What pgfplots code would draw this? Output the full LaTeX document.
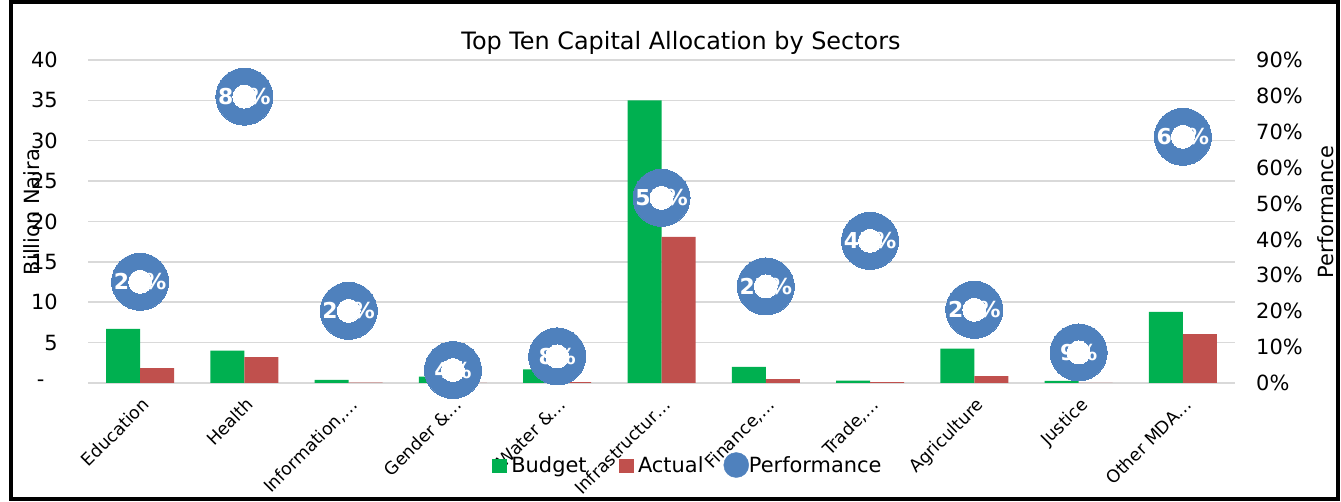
\documentclass[border=0pt]{standalone}
\usepackage{pgfplots}
\usepackage{pgfplotstable}
\pgfplotsset{compat=1.18}
\usepackage{fontspec}
\setmainfont{DejaVu Sans}
\definecolor{cgreen}{HTML}{00B050}
\definecolor{cred}{HTML}{C0504D}
\definecolor{cblue}{HTML}{4F81BD}
\definecolor{cgrid}{HTML}{D9D9D9}

\pgfplotstableread{
x budget actual
0 6.7  1.85
1 4.0  3.2
2 0.4  0.06
3 0.8  0.03
4 1.7  0.12
5 35.0 18.1
6 2.0  0.48
7 0.3  0.12
8 4.25 0.85
9 0.25 0.02
10 8.8 6.05
}\bars

\pgfplotstableread{
x perf lab
0 28.2 28
1 79.8 80
2 20.1 20
3 3.6  4
4 7.4  8
5 51.6 52
6 26.9 27
7 39.6 40
8 20.4 21
9 8.5  9
10 68.6 69
}\perf

\begin{document}
\begin{tikzpicture}[x=1bp,y=1bp]
\useasboundingbox (0,0) rectangle (1341,502);
\draw[line width=4bp] (10.5,3) rectangle (1337.5,499.5);

\begin{axis}[
  at={(88bp,119bp)}, anchor=south west,
  scale only axis, width=1147bp, height=323bp,
  xmin=-0.5, xmax=10.5, ymin=0, ymax=40,
  ybar, bar width=34bp,
  axis x line*=bottom, axis y line*=left,
  x axis line style={cgrid, line width=1.5bp, -},
  y axis line style={draw=none},
  major tick length=0pt,
  ymajorgrids, grid style={cgrid, line width=1.5bp},
  ytick={0,5,...,40},
  yticklabels={{\makebox[21bp][l]{-}},5,10,15,20,25,30,35,40},
  yticklabel style={font=\fontsize{21}{21}\selectfont, anchor=east, inner sep=0pt, xshift=-30bp},
  xtick={0,...,10},
  xticklabels={Education,Health,{Information,\ldots},{Gender \&\ldots},{Water \&\ldots},{Infrastructur\ldots},{Finance,\ldots},{Trade,\ldots},Agriculture,Justice,{Other MDA\ldots}},
  xticklabel style={font=\fontsize{17.5}{17.5}\selectfont, rotate=45, anchor=north east, inner sep=0pt, xshift=-9bp, yshift=-10bp},
  legend style={at={(0.522,-0.254)}, anchor=center, draw=none, fill=none, inner sep=0pt,
    legend columns=-1, font=\fontsize{21}{21}\selectfont,
    nodes={inner sep=0pt},
    /tikz/every odd column/.append style={column sep=5bp},
    /tikz/every even column/.append style={column sep=32bp}},
]
\addplot[fill=cgreen, draw=none, bar shift=-17bp, forget plot] table[x=x, y=budget] {\bars};
\addplot[fill=cred, draw=none, bar shift=17bp, forget plot] table[x=x, y=actual] {\bars};
\addlegendimage{legend image code/.code={\fill[cgreen] (0bp,-7bp) rectangle (14bp,6bp);}}
\addlegendentry{Budget}
\addlegendimage{legend image code/.code={\fill[cred] (0bp,-7bp) rectangle (14bp,6bp);}}
\addlegendentry{Actual\hspace*{-12bp}}
\addlegendimage{legend image code/.code={\fill[cblue] (12.5bp,0bp) circle (12.5bp);}}
\addlegendentry{\hspace*{-5bp}Performance}
\end{axis}

\begin{axis}[
  at={(88bp,119bp)}, anchor=south west,
  scale only axis, width=1147bp, height=323bp,
  xmin=-0.5, xmax=10.5, ymin=0, ymax=90,
  axis x line=none, axis y line*=right,
  y axis line style={draw=none},
  major tick length=0pt,
  ytick={0,10,...,90},
  yticklabels={0\%,10\%,20\%,30\%,40\%,50\%,60\%,70\%,80\%,90\%},
  yticklabel style={font=\fontsize{21}{21}\selectfont, anchor=west, inner sep=0pt, xshift=21bp},
  clip=false,
]
\addplot[only marks, mark=*, mark size=28.5bp, mark options={fill=cblue, draw=cblue, line width=0pt}] table[x=x, y=perf] {\perf};
\addplot[only marks, mark=*, mark size=11.5bp, mark options={fill=white, draw=white, line width=0pt},
  point meta=explicit,
  nodes near coords={\pgfmathprintnumber[assume math mode=true]{\pgfplotspointmeta}\%},
  every node near coord/.append style={anchor=center, text=white, inner sep=0pt, font=\bfseries\fontsize{22}{22}\selectfont}
  ] table[x=x, y=perf, meta=lab] {\perf};
\end{axis}

\node[font=\fontsize{24}{24}\selectfont] at (681,459) {Top Ten Capital Allocation by Sectors};
\node[rotate=90, font=\fontsize{21}{21}\selectfont] at (32,290) {Billion Naira};
\node[rotate=90, font=\fontsize{21}{21}\selectfont] at (1326,290) {Performance};
\end{tikzpicture}
\end{document}
